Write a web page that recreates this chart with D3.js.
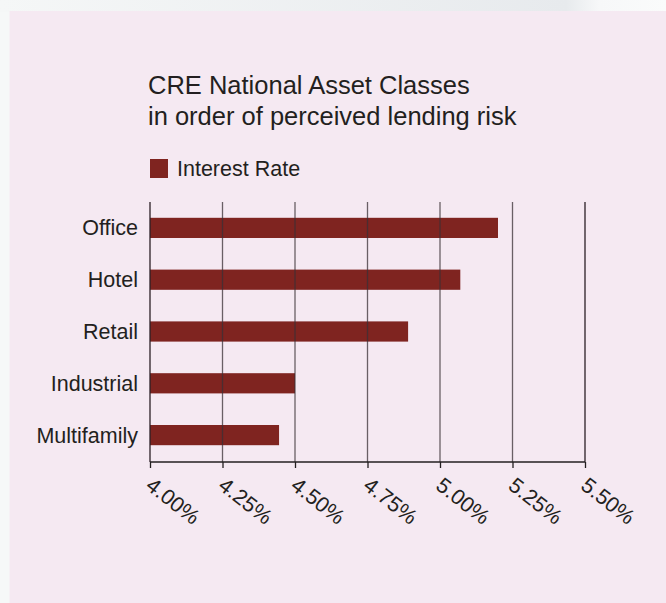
<!DOCTYPE html>
<html><head><meta charset="utf-8">
<script src="https://cdn.jsdelivr.net/npm/d3@7"></script>
<style>html,body{margin:0;padding:0;background:#f6f8f8;}svg{display:block;}</style>
</head><body>
<script>
const categories = ["Office","Hotel","Retail","Industrial","Multifamily"];
const rates = [5.20, 5.07, 4.89, 4.50, 4.445];
const tickValues = [4.00, 4.25, 4.50, 4.75, 5.00, 5.25, 5.50];
const titleLines = ["CRE National Asset Classes","in order of perceived lending risk"];
const legendLabel = "Interest Rate";

const W = 666, H = 603;
const svg = d3.select("body").append("svg").attr("width", W).attr("height", H);
const defs = svg.append("defs");
const g1 = defs.append("linearGradient").attr("id","topg").attr("x1","0").attr("x2","1").attr("y1","0").attr("y2","0");
g1.append("stop").attr("offset","0").attr("stop-color","#f5f7f7");
g1.append("stop").attr("offset","0.85").attr("stop-color","#e7eaed");
g1.append("stop").attr("offset","0.9").attr("stop-color","#f7f8f9");
g1.append("stop").attr("offset","1").attr("stop-color","#fafbfb");
svg.append("rect").attr("x",0).attr("y",0).attr("width",W).attr("height",12).attr("fill","url(#topg)");
svg.append("rect").attr("x",9.5).attr("y",11).attr("width",W-9.5).attr("height",H-11).attr("fill","#f5e9f2");

const x = d3.scaleLinear().domain([4.00, 5.50]).range([150, 585]);
const y = d3.scaleBand().domain(categories).range([202, 461]).paddingInner(0.61).paddingOuter(0.305);

const ink = "#231f20";
const font = "Liberation Sans, Arial, sans-serif";

// title
svg.append("g").selectAll("text").data(titleLines).join("text")
  .attr("x",148).attr("y",(d,i)=>94+i*31)
  .attr("font-family",font).attr("font-size",25.5).attr("fill",ink).text(d=>d);

// legend
svg.append("rect").attr("x",150).attr("y",159).attr("width",18).attr("height",19).attr("fill","#7f2420");
svg.append("text").attr("x",177).attr("y",176).attr("font-family",font).attr("font-size",21.5).attr("fill",ink).text(legendLabel);

// bars
svg.append("g").selectAll("rect").data(categories).join("rect")
  .attr("x",x(4.00)).attr("y",d=>y(d)).attr("height",y.bandwidth())
  .attr("width",(d,i)=>x(rates[i])-x(4.00)).attr("fill","#7f2420");

// grid lines
svg.append("g").selectAll("line").data(tickValues).join("line")
  .attr("x1",d=>x(d)).attr("x2",d=>x(d)).attr("y1",202).attr("y2",462)
  .attr("stroke",(d,i)=> (i===0||i===tickValues.length-1) ? "#2a2025" : "#3a3035")
  .attr("stroke-opacity",(d,i)=> (i===0||i===tickValues.length-1) ? 1 : 0.75)
  .attr("stroke-width",1.3);

// x axis
const xAxis = d3.axisBottom(x).tickValues(tickValues).tickSize(6).tickFormat(d=>d3.format(".2f")(d)+"%");
const ax = svg.append("g").attr("transform","translate(0,462)").call(xAxis);
ax.select(".domain").attr("stroke",ink).attr("stroke-width",1.5).attr("d","M150,0H585");
ax.selectAll(".tick line").attr("stroke",ink).attr("stroke-width",1.3);
ax.selectAll(".tick text").attr("font-family",font).attr("font-size",21.5).attr("fill",ink)
  .attr("text-anchor","start").attr("dy",null).attr("y",null)
  .attr("transform","translate(-6,26) rotate(38)");

// y labels
svg.append("g").selectAll("text").data(categories).join("text")
  .attr("x",138).attr("y",d=>y(d)+y.bandwidth()/2+7.5).attr("text-anchor","end")
  .attr("font-family",font).attr("font-size",21.5).attr("fill",ink).text(d=>d);
</script>
</body></html>
